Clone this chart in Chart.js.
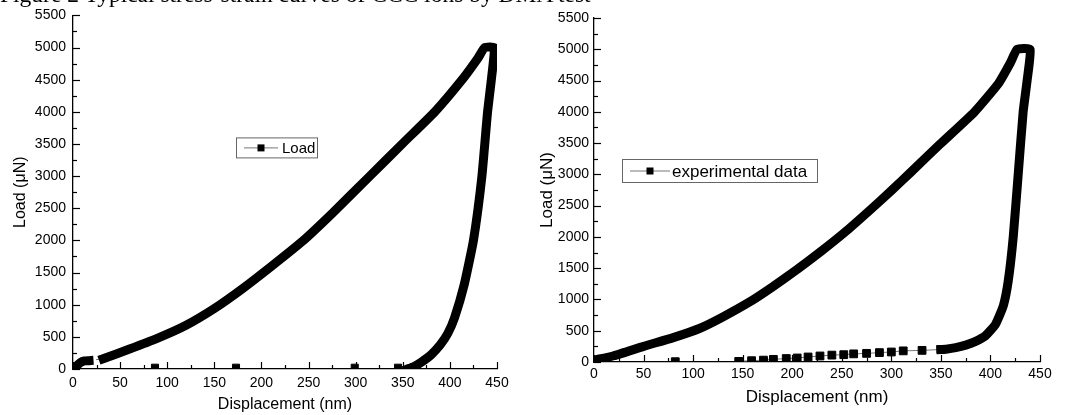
<!DOCTYPE html>
<html>
<head>
<meta charset="utf-8">
<script src="https://cdn.jsdelivr.net/npm/chart.js@4.4.1/dist/chart.umd.min.js"></script>
<style>
    body { margin: 0; background: #fff; width: 1073px; height: 415px; overflow: hidden; position: relative; }
    #title { position: absolute; left: 0; top: -17px; font: 23.5px 'Liberation Serif', 'Times New Roman', serif; line-height: 23px; white-space: nowrap; z-index: 2; }
    #leftBox { position: absolute; left: 0; top: 0; width: 536px; height: 415px; }
    #rightBox { position: absolute; left: 536px; top: 0; width: 537px; height: 415px; }
</style>
</head>
<body>
<div id="title">Figure 2 Typical stress-strain curves of CCC ions by DMA test</div>
<div id="leftBox"><canvas id="leftChart"></canvas></div>
<div id="rightBox"><canvas id="rightChart"></canvas></div>
<script>
'use strict'

// ---- left figure: "Load" ----
const leftStartDisp = [0, 4, 8, 12, 17];
const leftStartLoad = [0, 50, 100, 125, 130];
const leftGapDisp = [17, 32];
const leftGapLoad = [130, 160];
const leftLoopDisp = [32, 60, 90, 120, 150, 180, 210, 243, 275, 315, 350, 384, 413, 430, 437,
    447, 444, 440, 434, 425, 415, 405, 398, 390, 380, 370, 362, 355];
const leftLoopLoad = [160, 310, 480, 680, 940, 1250, 1590, 1980, 2420, 3000, 3510, 4000, 4500, 4840, 5000,
    5000, 4500, 4000, 3000, 2000, 1300, 800, 560, 380, 220, 110, 40, 0];
const leftDotDisp = [87, 173, 299, 345];
const leftDotLoad = [20, 20, 20, 20];

// ---- right figure: "experimental data" ----
const rightLoopDisp = [0, 20, 50, 80, 107, 130, 157, 180, 205, 230, 255, 280, 300, 320, 349, 384, 408, 420, 427,
    440, 437, 433, 428, 423, 418, 413, 405, 395, 385, 375, 365, 355, 350];
const rightLoopLoad = [30, 100, 250, 390, 540, 720, 960, 1200, 1480, 1780, 2100, 2450, 2740, 3040, 3480, 4000, 4450, 4780, 5000,
    5000, 4500, 4000, 3000, 2000, 1300, 900, 600, 420, 330, 270, 230, 205, 200];
const rightDotDisp = [82, 100, 146, 159, 171, 181, 194, 205, 216, 228, 240, 252, 262, 275, 288, 300, 312, 331, 350];
const rightDotLoad = [5, null, 10, 21, 30, 42, 55, 64, 80, 96, 110, 117, 130, 138, 150, 160, 178, 186, 200];

const xTicks = { min: 0, max: 450, step: 50 };
const yTicks = { min: 0, max: 5500, step: 500 };

function pts(xs, ys) {
    return xs.map((x, i) => ({ x: x, y: ys[i] }));
}

const innerTicks = {
    id: 'innerTicks',
    afterDraw(chart) {
        const { ctx, chartArea, scales: { x, y } } = chart;
        ctx.save();
        ctx.strokeStyle = '#000';
        ctx.lineWidth = 1.2;
        for (let v = x.min; v <= x.max; v += xTicks.step / 2) {
            const px = Math.round(x.getPixelForValue(v)) + 0.5;
            const len = v % xTicks.step === 0 ? 7 : 4;
            ctx.beginPath();
            ctx.moveTo(px, chartArea.bottom);
            ctx.lineTo(px, chartArea.bottom - len);
            ctx.stroke();
        }
        for (let v = y.min; v <= y.max; v += yTicks.step / 2) {
            const py = Math.round(y.getPixelForValue(v)) + 0.5;
            const len = v % yTicks.step === 0 ? 7 : 4;
            ctx.beginPath();
            ctx.moveTo(chartArea.left, py);
            ctx.lineTo(chartArea.left + len, py);
            ctx.stroke();
        }
        ctx.restore();
    }
};

const boxLegend = {
    id: 'boxLegend',
    afterDraw(chart, args, opts) {
        const { ctx, chartArea } = chart;
        const left = chartArea.left + opts.left;
        const top = chartArea.top + opts.top;
        ctx.save();
        ctx.fillStyle = '#fff';
        ctx.fillRect(left, top, opts.width, opts.height);
        ctx.strokeStyle = '#666';
        ctx.lineWidth = 1;
        ctx.strokeRect(left + 0.5, top + 0.5, opts.width, opts.height);
        const midY = top + opts.height / 2 + 0.5;
        ctx.strokeStyle = '#777';
        ctx.beginPath();
        ctx.moveTo(left + 8, midY);
        ctx.lineTo(left + 8 + opts.lineLen, midY);
        ctx.stroke();
        ctx.fillStyle = '#000';
        const cx = left + 8 + opts.lineLen / 2;
        ctx.fillRect(cx - 3.5, midY - 3.5, 7, 7);
        ctx.font = opts.font;
        ctx.textBaseline = 'middle';
        ctx.fillText(opts.text, left + 8 + opts.lineLen + opts.gap, midY + 1);
        ctx.restore();
    }
};

function makeOptions(cfg) {
    return {
        responsive: true,
        maintainAspectRatio: false,
        animation: false,
        events: [],
        layout: { padding: { top: cfg.padTop, right: cfg.padRight, left: 0, bottom: 0 } },
        plugins: {
            legend: { display: false },
            tooltip: { enabled: false },
            boxLegend: cfg.legend
        },
        elements: { point: { radius: 0 } },
        scales: {
            x: {
                type: 'linear',
                min: xTicks.min,
                max: xTicks.max,
                grid: { display: false, drawTicks: false },
                border: { display: true, color: '#000', width: 1.3 },
                ticks: { stepSize: xTicks.step, color: '#000', padding: cfg.xPad, maxRotation: 0,
                    callback: v => String(v),
                    font: { family: "'Liberation Sans', Arial, sans-serif", size: 14 } },
                title: { display: true, text: 'Displacement (nm)', color: '#000',
                    padding: { top: 0, bottom: cfg.xTitlePad },
                    font: { family: "'Liberation Sans', Arial, sans-serif", size: cfg.titleSize } },
                afterFit: s => { s.height = cfg.xHeight; }
            },
            y: {
                type: 'linear',
                min: yTicks.min,
                max: yTicks.max,
                grid: { display: false, drawTicks: false },
                border: { display: true, color: '#000', width: 1.3 },
                ticks: { stepSize: yTicks.step, color: '#000', padding: cfg.yPad,
                    callback: v => String(v),
                    font: { family: "'Liberation Sans', Arial, sans-serif", size: 14 } },
                title: { display: true, text: 'Load (\u03bcN)', color: '#000',
                    padding: { top: cfg.yTitlePad, bottom: 0 },
                    font: { family: "'Liberation Sans', Arial, sans-serif", size: cfg.titleSize } },
                afterFit: s => { s.width = cfg.yWidth; }
            }
        }
    };
}

const thick = {
    borderColor: '#000',
    borderWidth: 9,
    borderJoinStyle: 'round',
    borderCapStyle: 'square',
    tension: 0.15,
    pointRadius: 0,
    fill: false
};

new Chart(document.getElementById('leftChart'), {
    type: 'line',
    data: {
        datasets: [
            Object.assign({ label: 'Load', data: pts(leftLoopDisp, leftLoopLoad) }, thick),
            Object.assign({ label: 'Load start', data: pts(leftStartDisp, leftStartLoad) }, thick),
            { label: 'gap', data: pts(leftGapDisp, leftGapLoad), borderColor: '#777', borderWidth: 1,
                borderDash: [4, 3], pointRadius: 0 },
            { label: 'dots', data: pts(leftDotDisp, leftDotLoad), showLine: false, pointStyle: 'rect',
                pointRadius: 5, backgroundColor: '#000', borderColor: '#000' }
        ]
    },
    options: makeOptions({
        padTop: 15, padRight: 39, xHeight: 46, yWidth: 73, xPad: 6, yPad: 7,
        xTitlePad: 1, yTitlePad: 11, titleSize: 16,
        legend: { left: 163, top: 122, width: 81, height: 20, lineLen: 34, gap: 4,
            text: 'Load', font: "15px 'Liberation Sans', Arial, sans-serif" }
    }),
    plugins: [innerTicks, boxLegend]
});

new Chart(document.getElementById('rightChart'), {
    type: 'line',
    data: {
        datasets: [
            Object.assign({ label: 'experimental data', data: pts(rightLoopDisp, rightLoopLoad) }, thick),
            { label: 'dots', data: pts(rightDotDisp, rightDotLoad), pointStyle: 'rect', pointRadius: 5.5,
                backgroundColor: '#000', borderColor: '#777', borderWidth: 1, spanGaps: false,
                pointBorderColor: '#000', pointBackgroundColor: '#000' }
        ]
    },
    options: makeOptions({
        padTop: 18, padRight: 33, xHeight: 53, yWidth: 58, xPad: 4, yPad: 5,
        xTitlePad: 7, yTitlePad: 1, titleSize: 17,
        legend: { left: 28, top: 141, width: 195, height: 23, lineLen: 40, gap: 2,
            text: 'experimental data', font: "17px 'Liberation Sans', Arial, sans-serif" }
    }),
    plugins: [innerTicks, boxLegend]
});
</script>
</body>
</html>
